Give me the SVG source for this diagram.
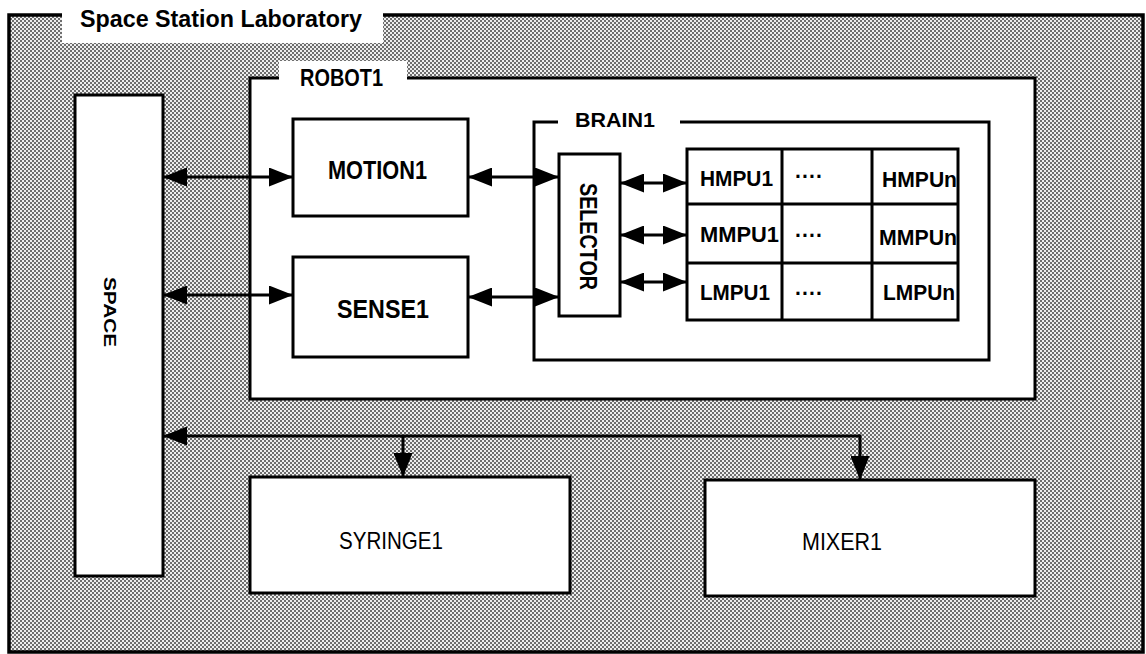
<svg xmlns="http://www.w3.org/2000/svg" width="1146" height="654" viewBox="0 0 1146 654">
  <defs>
    <!-- halftone-like dither used for the laboratory floor -->
    <pattern id="dither" width="4" height="4" patternUnits="userSpaceOnUse">
      <rect width="4" height="4" fill="#eeeeee"/>
      <rect x="0" y="0" width="2" height="2" fill="#6e6e6e"/>
      <rect x="2" y="2" width="2" height="2" fill="#6e6e6e"/>
    </pattern>
    <marker id="head" viewBox="0 0 24 19" refX="24" refY="9.5" markerWidth="24" markerHeight="19" markerUnits="userSpaceOnUse" orient="auto-start-reverse">
      <path d="M0,0 L24,9.5 L0,19 z" fill="#000"/>
    </marker>
    <style>
      .box { fill: #fff; stroke: #000; stroke-width: 3; }
      .frame { fill: url(#dither); stroke: #000; stroke-width: 3.5; }
      .patch { fill: #fff; stroke: none; }
      .rule { stroke: #000; stroke-width: 3; fill: none; }
      .lbl { font-family: "Liberation Sans", Arial, sans-serif; fill: #000; }
      .b { font-weight: bold; }
      .link { stroke: #000; stroke-width: 3; fill: none; marker-end: url(#head); }
      .both { marker-start: url(#head); }
    </style>
  </defs>

  <!-- enclosing laboratory -->
  <g id="lab">
    <rect class="frame" x="9" y="15" width="1134" height="637"/>
    <rect class="patch" x="62" y="0" width="321" height="43"/>
    <text class="lbl b" x="80" y="27" font-size="24" textLength="282" lengthAdjust="spacingAndGlyphs">Space Station Laboratory</text>
  </g>

  <g id="space">
    <rect class="box" x="75" y="95" width="88" height="481"/>
    <text class="lbl b" font-size="17" text-anchor="middle" transform="translate(104,312) rotate(90)" textLength="70" lengthAdjust="spacingAndGlyphs">SPACE</text>
  </g>

  <g id="robot1">
    <rect class="box" x="250" y="78" width="785" height="321"/>
    <rect class="patch" x="279" y="61" width="128" height="19"/>
    <text class="lbl b" x="300" y="86" font-size="24" textLength="83" lengthAdjust="spacingAndGlyphs">ROBOT1</text>
  </g>

  <g id="motion1">
    <rect class="box" x="293" y="119" width="175" height="97"/>
    <text class="lbl b" x="328" y="179" font-size="26" textLength="99" lengthAdjust="spacingAndGlyphs">MOTION1</text>
  </g>

  <g id="sense1">
    <rect class="box" x="293" y="257" width="175" height="100"/>
    <text class="lbl b" x="337" y="318" font-size="26" textLength="92" lengthAdjust="spacingAndGlyphs">SENSE1</text>
  </g>

  <g id="brain1">
    <rect class="box" x="534" y="122" width="455" height="238"/>
    <rect class="patch" x="558" y="118" width="122" height="8"/>
    <text class="lbl b" x="575" y="127" font-size="21" textLength="80" lengthAdjust="spacingAndGlyphs">BRAIN1</text>
  </g>

  <g id="selector">
    <rect class="box" x="559" y="154" width="61" height="162"/>
    <text class="lbl b" font-size="23" text-anchor="middle" transform="translate(580,236.5) rotate(90)" textLength="107" lengthAdjust="spacingAndGlyphs">SELECTOR</text>
  </g>

  <!-- processing units: three rows, first / elided / last column -->
  <g id="mpu-grid">
    <rect class="box" x="687" y="149" width="271" height="171"/>
    <path class="rule" d="M782,149 V320 M872,149 V320 M687,204 H958 M687,263 H958"/>
    <text class="lbl b" x="700" y="186" font-size="22" textLength="73" lengthAdjust="spacingAndGlyphs">HMPU1</text>
    <text class="lbl b" x="700" y="242" font-size="22" textLength="79" lengthAdjust="spacingAndGlyphs">MMPU1</text>
    <text class="lbl b" x="700" y="300" font-size="22" textLength="70" lengthAdjust="spacingAndGlyphs">LMPU1</text>
    <text class="lbl b" x="795" y="184" font-size="22" textLength="28" lengthAdjust="spacingAndGlyphs">····</text>
    <text class="lbl b" x="795" y="243" font-size="22" textLength="28" lengthAdjust="spacingAndGlyphs">····</text>
    <text class="lbl b" x="795" y="301" font-size="22" textLength="28" lengthAdjust="spacingAndGlyphs">····</text>
    <text class="lbl b" x="882" y="187" font-size="22" textLength="75" lengthAdjust="spacingAndGlyphs">HMPUn</text>
    <text class="lbl b" x="879" y="245" font-size="22" textLength="78" lengthAdjust="spacingAndGlyphs">MMPUn</text>
    <text class="lbl b" x="883" y="300" font-size="22" textLength="72" lengthAdjust="spacingAndGlyphs">LMPUn</text>
  </g>

  <g id="syringe1">
    <rect class="box" x="250" y="477" width="320" height="116"/>
    <text class="lbl" x="339" y="549" font-size="24" textLength="104" lengthAdjust="spacingAndGlyphs">SYRINGE1</text>
  </g>

  <g id="mixer1">
    <rect class="box" x="705" y="480" width="330" height="116"/>
    <text class="lbl" x="802" y="550" font-size="24" textLength="80" lengthAdjust="spacingAndGlyphs">MIXER1</text>
  </g>

  <g id="connectors">
    <line class="link both" x1="163" y1="177" x2="293" y2="177"/>
    <line class="link both" x1="163" y1="295" x2="293" y2="295"/>
    <line class="link both" x1="468" y1="177" x2="559" y2="177"/>
    <line class="link both" x1="468" y1="297" x2="559" y2="297"/>
    <line class="link both" x1="620" y1="183" x2="687" y2="183"/>
    <line class="link both" x1="620" y1="235" x2="687" y2="235"/>
    <line class="link both" x1="620" y1="282" x2="687" y2="282"/>
    <line class="link" x1="860" y1="436" x2="163" y2="436"/>
    <line class="link" x1="860" y1="434.5" x2="860" y2="480"/>
    <line class="link" x1="403" y1="436" x2="403" y2="477"/>
  </g>
</svg>
